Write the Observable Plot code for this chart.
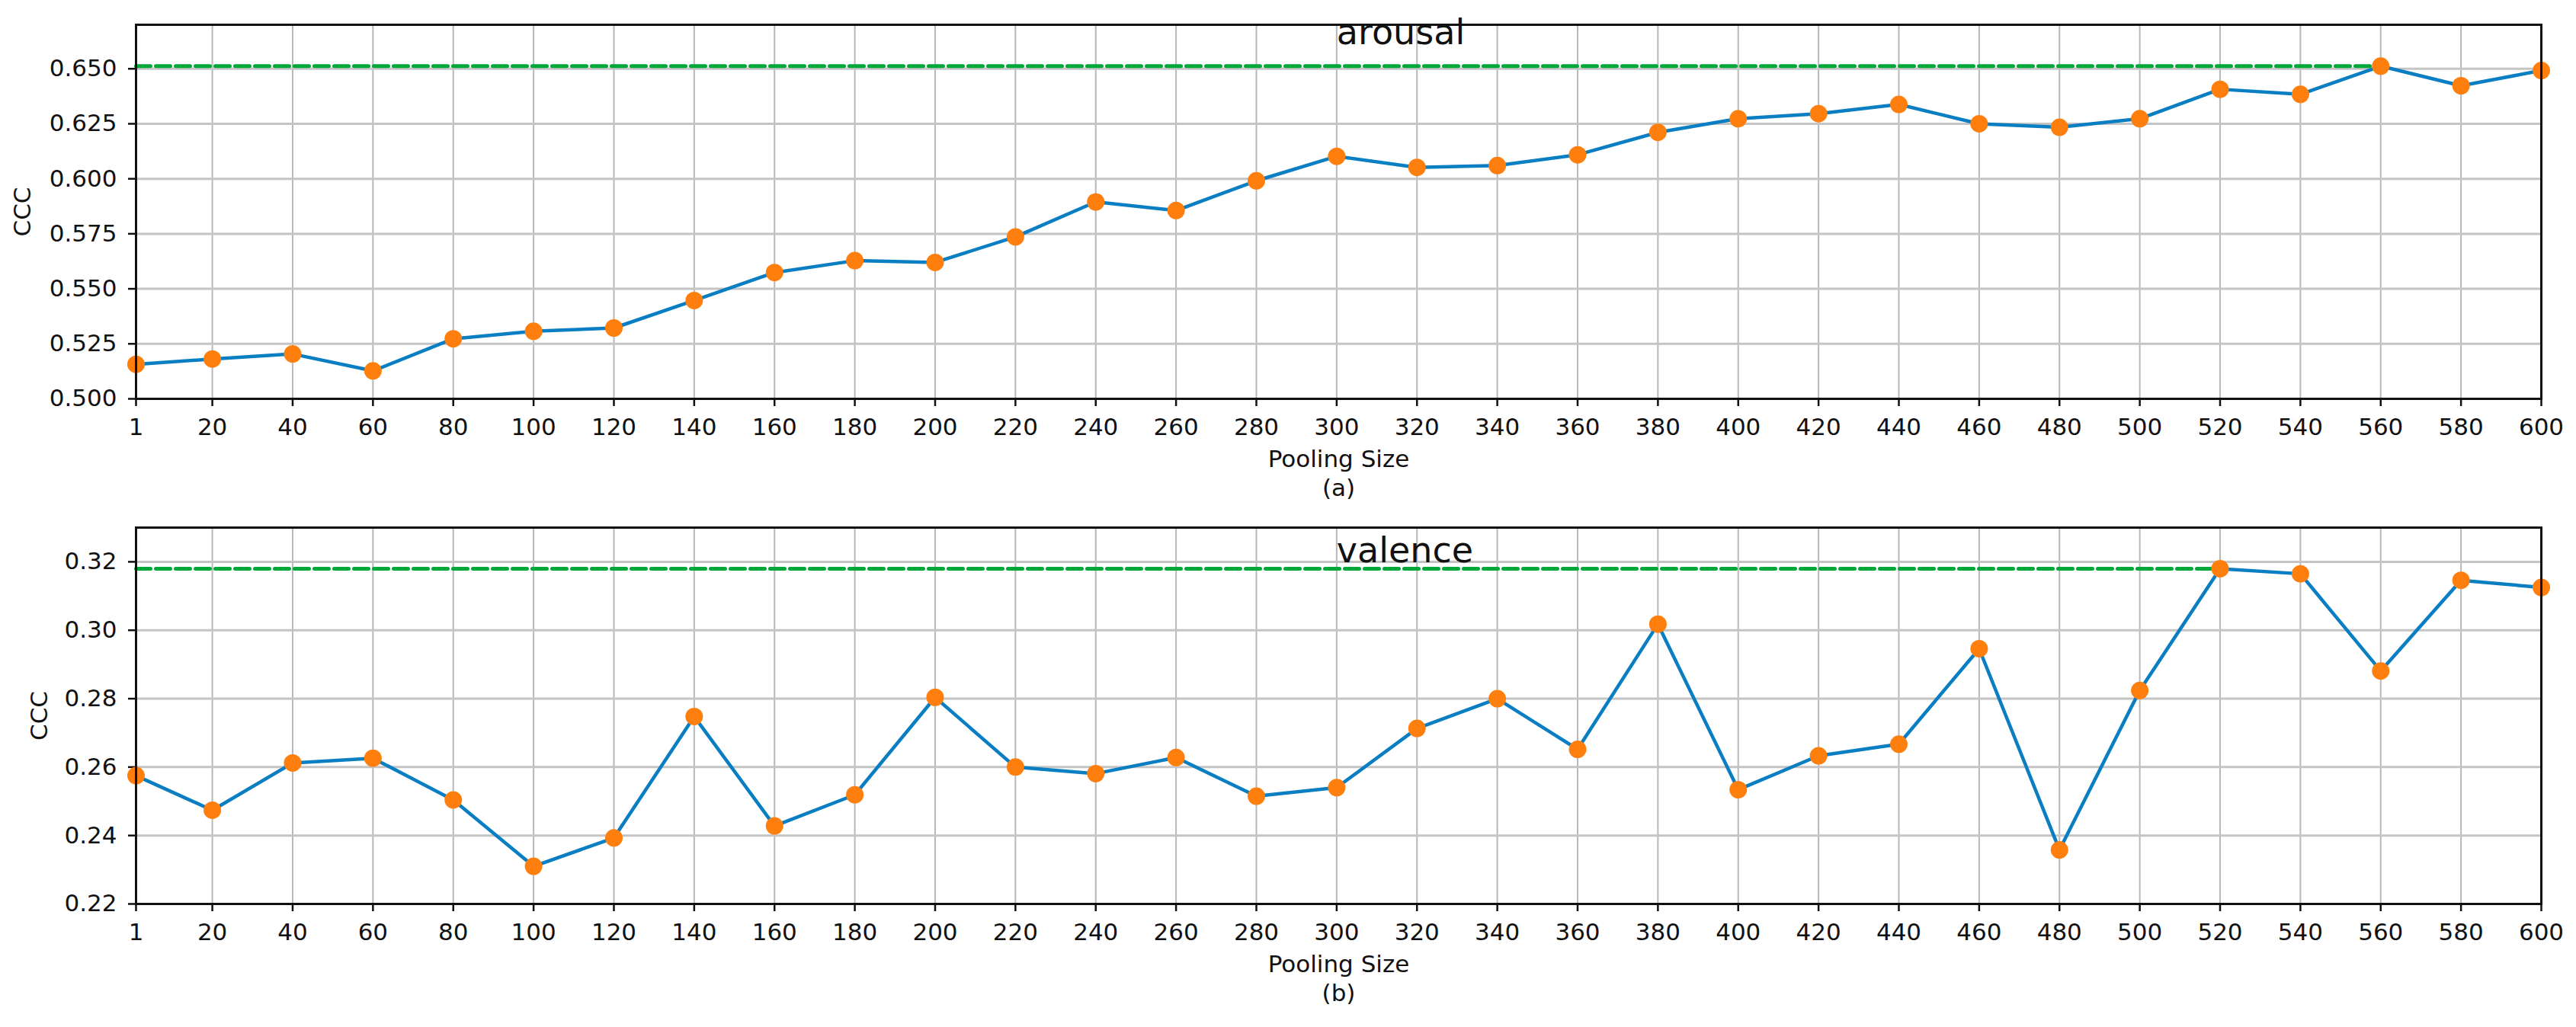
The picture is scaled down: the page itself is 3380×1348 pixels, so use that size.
<!DOCTYPE html>
<html>
<head>
<meta charset="utf-8">
<script src="https://cdn.jsdelivr.net/npm/d3@7"></script>
<script src="https://cdn.jsdelivr.net/npm/@observablehq/plot@0.6"></script>
<style>
  html, body { margin: 0; padding: 0; background: #ffffff; }
  #chart { width: 3380px; height: 1348px; position: relative; }
  #chart svg { display: block; }
</style>
</head>
<body>
<div id="chart"></div>
<script>
// ---- data ----
const poolingSizes = [1, 20, 40, 60, 80, 100, 120, 140, 160, 180, 200, 220, 240, 260, 280, 300,
  320, 340, 360, 380, 400, 420, 440, 460, 480, 500, 520, 540, 560, 580, 600];
const arousalCCC = [0.5157, 0.5181, 0.5204, 0.5127, 0.5273, 0.5307, 0.5322, 0.5447, 0.5574, 0.5628,
  0.5620, 0.5736, 0.5895, 0.5856, 0.5991, 0.6102, 0.6052, 0.6060, 0.6109, 0.6211,
  0.6273, 0.6296, 0.6338, 0.6250, 0.6234, 0.6273, 0.6407, 0.6384, 0.6512, 0.6423, 0.6492];
const valenceCCC = [0.2575, 0.2474, 0.2612, 0.2626, 0.2504, 0.2310, 0.2393, 0.2748, 0.2428, 0.2519,
  0.2804, 0.2600, 0.2581, 0.2628, 0.2515, 0.2540, 0.2713, 0.2800, 0.2652, 0.3018,
  0.2534, 0.2633, 0.2667, 0.2946, 0.2358, 0.2824, 0.3180, 0.3165, 0.2881, 0.3146, 0.3125];
const xTickLabels = [1, 20, 40, 60, 80, 100, 120, 140, 160, 180, 200, 220, 240, 260, 280, 300,
  320, 340, 360, 380, 400, 420, 440, 460, 480, 500, 520, 540, 560, 580, 600];
const arousalYTicks = [0.500, 0.525, 0.550, 0.575, 0.600, 0.625, 0.650];
const valenceYTicks = [0.22, 0.24, 0.26, 0.28, 0.30, 0.32];
const arousalYDomain = [0.5, 0.67];
const valenceYDomain = [0.22, 0.33];
const titles = ["arousal", "valence"];
const xLabel = "Pooling Size";
const yLabel = "CCC";
const captions = ["(a)", "(b)"];

// ---- drawing ----
const FONT = "DejaVu Sans";
const BLUE = "#0a7ec2";
const ORANGE = "#ff7f0e";
const GREEN = "#00a83a";

function panel({values, yDomain, yTicks, yFormat, title, caption, marginTop, marginBottom, yLabelDx, titleDy}) {
  const rows = poolingSizes.map((x, i) => ({x, y: values[i]}));
  const best = d3.greatest(rows, d => d.y);
  const bestLine = [{x: rows[0].x, y: best.y}, {x: best.x, y: best.y}];
  return Plot.plot({
    width: 3380,
    height: 674,
    marginTop,
    marginBottom,
    marginLeft: 178,
    marginRight: 46,
    style: {fontFamily: FONT, fontSize: "31px", color: "#111", background: "#fff"},
    x: {domain: [1, 600]},
    y: {domain: yDomain},
    marks: [
      Plot.gridX(xTickLabels, {stroke: "#b8b8b8", strokeOpacity: 1, strokeWidth: 2}),
      Plot.gridY(yTicks, {stroke: "#c4c4c4", strokeOpacity: 1, strokeWidth: 3}),
      Plot.axisX(xTickLabels, {tickSize: 10, tickPadding: 15, tickFormat: d => String(d), label: null, strokeWidth: 2.5}),
      Plot.axisY(yTicks, {tickSize: 10, tickPadding: 15, tickFormat: d3.format(yFormat), label: null, strokeWidth: 2.5}),
      Plot.line(bestLine, {x: "x", y: "y", stroke: GREEN, strokeWidth: 5, strokeDasharray: "19,7"}),
      Plot.line(rows, {x: "x", y: "y", stroke: BLUE, strokeWidth: 4.5}),
      Plot.dot(rows, {x: "x", y: "y", r: 11.5, fill: ORANGE, stroke: "none"}),
      Plot.frame({stroke: "#111", strokeWidth: 3}),
      Plot.text([title], {x: () => 300, frameAnchor: "top", dy: titleDy, textAnchor: "start", lineAnchor: "bottom", fontSize: 46, fill: "#111"}),
      Plot.text([xLabel], {frameAnchor: "bottom", dy: 89, lineAnchor: "bottom", fontSize: 31, fill: "#111"}),
      Plot.text([caption], {frameAnchor: "bottom", dy: 127, lineAnchor: "bottom", fontSize: 31, fill: "#111"}),
      Plot.text([yLabel], {frameAnchor: "left", dx: yLabelDx, rotate: -90, textAnchor: "middle", lineAnchor: "middle", fontSize: 31, fill: "#111"})
    ]
  });
}

const chart = document.getElementById("chart");
chart.appendChild(panel({
  values: arousalCCC, yDomain: arousalYDomain, yTicks: arousalYTicks, yFormat: ".3f",
  title: titles[0], caption: captions[0], marginTop: 32, marginBottom: 151, yLabelDx: -148, titleDy: 25
}));
chart.appendChild(panel({
  values: valenceCCC, yDomain: valenceYDomain, yTicks: valenceYTicks, yFormat: ".2f",
  title: titles[1], caption: captions[1], marginTop: 18, marginBottom: 162, yLabelDx: -126, titleDy: 45
}));
</script>
</body>
</html>
